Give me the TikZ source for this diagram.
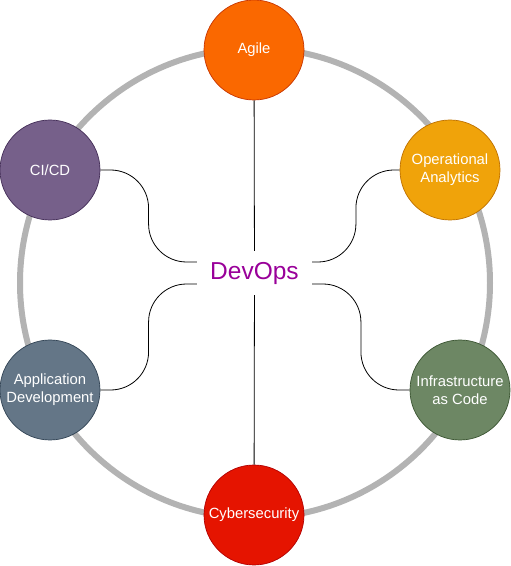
\documentclass[tikz,border=0pt]{standalone}
\usepackage{fontspec}
\setmainfont{Liberation Sans}
\usetikzlibrary{calc}

\definecolor{agilefill}{HTML}{FA6800}\definecolor{agileline}{HTML}{C73500}
\definecolor{cicdfill}{HTML}{76608A}\definecolor{cicdline}{HTML}{432D57}
\definecolor{opsfill}{HTML}{F0A30A}\definecolor{opsline}{HTML}{BD7000}
\definecolor{appfill}{HTML}{647687}\definecolor{appline}{HTML}{314354}
\definecolor{infrafill}{HTML}{6D8764}\definecolor{infraline}{HTML}{3A5431}
\definecolor{secfill}{HTML}{E51400}\definecolor{secline}{HTML}{B20000}
\definecolor{devopspurple}{HTML}{990099}
\definecolor{ringgray}{HTML}{B3B3B3}

\begin{document}
\begin{tikzpicture}[
  x=1pt,y=1pt,
  topic/.style={draw,circle,minimum size=100pt,inner sep=1pt,line width=0.7pt,
    text=white,align=center,font=\fontsize{14.8}{18}\selectfont},
  hubtext/.style={minimum width=115pt,minimum height=44pt,inner sep=0pt,
    text=devopspurple,font=\fontsize{24.5}{28}\selectfont},
  link/.style={line width=0.8pt,rounded corners=38pt},
  ring/.style={line width=6pt,ringgray}
]
  \useasboundingbox (0,0) rectangle (511,566);
  \coordinate (hub) at (255,283);
  \draw[ring] (hub) circle (235pt);

  \node[hubtext] (devops) at (254.5,293) {DevOps};

  \node[topic,fill=agilefill,draw=agileline] (agile) at (254,516) {Agile};
  \node[topic,fill=cicdfill,draw=cicdline] (cicd) at (50,396) {CI/CD};
  \node[topic,fill=opsfill,draw=opsline] (opana) at (450,396) {Operational\\Analytics};
  \node[topic,fill=appfill,draw=appline] (appdev) at (50,176) {Application\\Development};
  \node[topic,fill=infrafill,draw=infraline] (infra) at (460,176) {Infrastructure\\as Code};
  \node[topic,fill=secfill,draw=secline] (cyber) at (254,51) {Cybersecurity};

  % ports on the hub label
  \coordinate (port-nw) at ([yshift=11pt]devops.west);
  \coordinate (port-sw) at ([yshift=-11pt]devops.west);
  \coordinate (port-ne) at ([yshift=11pt]devops.east);
  \coordinate (port-se) at ([yshift=-11pt]devops.east);

  \draw[link] (agile) -- (devops);
  \draw[link] (devops) -- (cyber);
  \foreach \a/\b in {cicd.east/port-nw,appdev.east/port-sw,opana.west/port-ne,infra.west/port-se}
    \draw[link] let \p1=(\a), \p2=(\b) in
      (\p1) -- ({(\x1+\x2)/2},\y1) -- ({(\x1+\x2)/2},\y2) -- (\p2);
\end{tikzpicture}
\end{document}
